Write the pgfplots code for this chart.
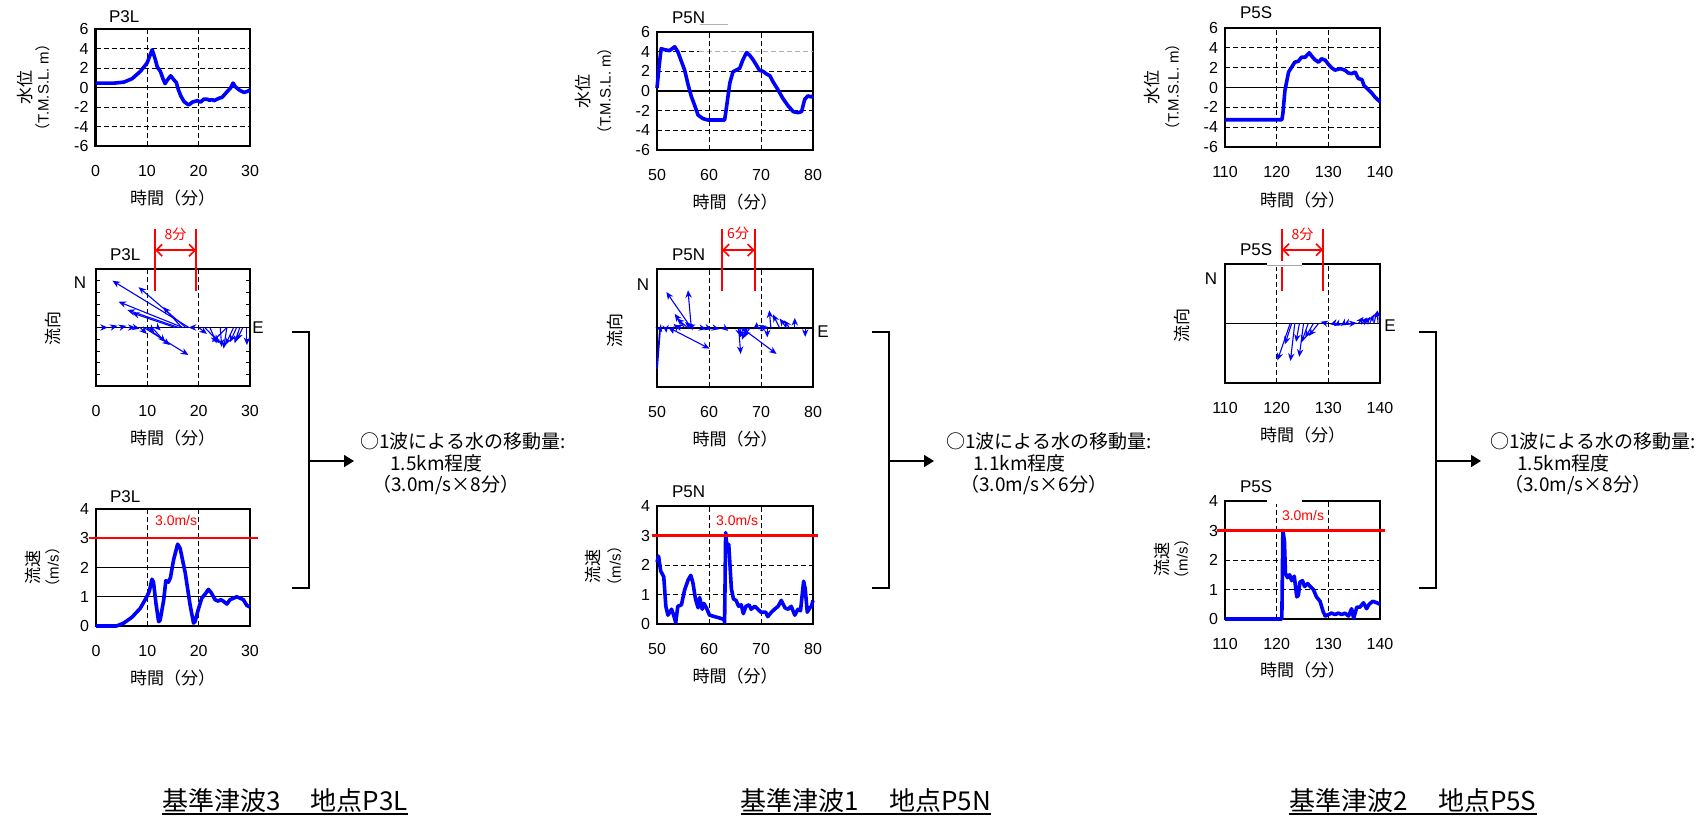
\documentclass[border=0pt]{standalone}
\usepackage{fontspec}
\setmainfont{Liberation Sans}
\newfontfamily\jp{Noto Sans CJK JP}
\usepackage{pgfplots}
\pgfplotsset{compat=1.18}
\usetikzlibrary{arrows.meta}
\definecolor{bl}{RGB}{0,0,255}
\definecolor{rd}{RGB}{255,0,0}
\newcommand\fs[1]{\fontsize{#1}{#1}\selectfont}

\tikzset{gridd/.style={dash pattern=on 2.5pt off 1.5pt, line width=0.5pt}}
\pgfplotsset{
  panel/.style={
    scale only axis, anchor=north west, clip=false,
    width=77.5pt, height=58.5pt,
    axis line style={line width=1.1pt},
    tick style={draw=none},
    ticklabel style={font=\fs{8}},
    /pgf/number format/assume math mode=true,
    xticklabel style={yshift=-6pt},
  },
  water/.style={panel, ymin=-6, ymax=6, ytick={-6,-4,-2,0,2,4,6}},
  speed/.style={panel, ymin=0, ymax=4, ytick={0,1,2,3,4}},
  dir/.style={panel, ymin=-1, ymax=1, ytick=\empty},
  curve/.style={bl, line width=1.8pt, line join=round, no marks},
  vec/.style={bl, line width=0.55pt, no marks, -{Stealth[length=3.8pt,width=3.2pt]}, quiver={u=\thisrow{u},v=\thisrow{v}}},
}

\begin{document}
\begin{tikzpicture}
\path[use as bounding box] (0pt,0pt) rectangle (852pt,-409.5pt);

% ================= Column 1 : P3L =================
\begin{axis}[water, at={(47.75pt,-14.5pt)}, width=77.25pt, xmin=0, xmax=30, xtick={0,10,20,30}]
\pgfplotsinvokeforeach{-4,-2,2,4}{\draw[gridd] (axis cs:0,#1) -- (axis cs:30,#1);}
\draw[gridd] (axis cs:10,-6) -- (axis cs:10,6);
\draw[gridd] (axis cs:20,-6) -- (axis cs:20,6);
\draw[line width=0.6pt] (axis cs:0,0) -- (axis cs:30,0);
\addplot[curve] coordinates {(0,0.45)(2,0.45)(3.6,0.45)(5.5,0.55)(7.1,0.9)(8.7,1.65)(10,2.5)(11,3.87)(11.6,2.9)(12,2.1)(12.6,1.65)(13.1,0.9)(13.5,0.4)(14,0.8)(14.6,1.2)(15.2,0.8)(15.7,0.5)(16.1,-0.25)(16.6,-0.9)(17.2,-1.45)(18.1,-1.8)(18.8,-1.5)(19.8,-1.35)(20.4,-1.5)(21,-1.2)(21.7,-1.2)(22.1,-1.3)(22.7,-1.25)(23,-1.35)(24,-1.1)(24.6,-1)(25.6,-0.4)(26.2,-0.07)(26.7,0.45)(27.2,0.05)(27.9,-0.25)(28.8,-0.5)(29.5,-0.4)(30,-0.25)};
\end{axis}

\begin{axis}[dir, at={(48pt,-134.5pt)}, width=77pt, xmin=0, xmax=30, xtick={0,10,20,30},
  ytick={-0.8,-0.6,-0.4,-0.2,0.2,0.4,0.6,0.8}, yticklabels={}, ytick style={draw=black, line width=0.4pt}, major tick length=2pt]
\draw[gridd] (axis cs:10,-1) -- (axis cs:10,1);
\draw[gridd] (axis cs:20,-1) -- (axis cs:20,1);
\draw[line width=0.6pt] (axis cs:0,0) -- (axis cs:30,0);
\addplot[vec] table[x=t, y expr=0] {
t u v
18.1 -14.9 0.80
17.5 -9.2 0.69
16.9 -12.5 0.44
16.1 -10.0 0.30
15.4 -8.4 0.25
16.7 -3.6 0.35
18.7 -0.65 0
9.3 8.7 -0.47
9.9 4.5 -0.30
10.9 2.6 -0.25
8.6 1.3 -0.11
10.5 0.8 -0.08
12 0.6 -0.05
1.2 1.1 0
2.8 1.4 0.03
4.7 1.2 0.03
6.4 1.3 0
7.5 1.0 -0.02
20 1.6 -0.11
21.2 2.9 -0.27
22.2 1.3 -0.27
24.2 0.3 -0.33
25.5 -0.65 -0.36
25.5 -2.9 -0.25
26.8 -1.6 -0.30
27.4 -1.3 -0.25
28 -1.0 -0.27
28.6 -1.2 -0.22
29.4 0 -0.30
};
\draw[rd, line width=1pt] (axis cs:11.5,0.62) -- (axis cs:11.5,1.68);
\draw[rd, line width=1pt] (axis cs:19.5,0.62) -- (axis cs:19.5,1.68);
\draw[rd, line width=0.8pt, {Straight Barb[length=3pt,width=6pt]}-{Straight Barb[length=3pt,width=6pt]}] (axis cs:11.5,1.32) -- (axis cs:19.5,1.32);
\node[rd, font=\jp\fs{7}] at (axis cs:15.5,1.6) {8分};
\end{axis}

\begin{axis}[speed, at={(48pt,-254.5pt)}, width=77pt, xmin=0, xmax=30, xtick={0,10,20,30}]
\draw[line width=0.5pt] (axis cs:0,1) -- (axis cs:30,1);
\draw[line width=0.5pt] (axis cs:0,2) -- (axis cs:30,2);
\draw[gridd] (axis cs:10,0) -- (axis cs:10,4);
\draw[gridd] (axis cs:20,0) -- (axis cs:20,4);
\addplot[curve] coordinates {(0,0)(2,0)(4,0)(5.4,0.1)(7,0.3)(8.6,0.6)(9.9,1.0)(10.4,1.2)(10.9,1.6)(11.2,1.5)(11.7,0.75)(12.2,0.15)(12.5,0.2)(13.2,0.9)(13.6,1.55)(14.1,1.5)(14.5,1.65)(15.1,2.25)(15.9,2.8)(16.4,2.65)(17.4,1.8)(18.3,0.75)(19,0.1)(19.3,0.15)(19.9,0.55)(20.6,0.95)(21.3,1.1)(21.9,1.25)(22.4,1.15)(23.2,0.9)(23.8,0.85)(24.3,0.9)(24.8,0.85)(25.5,0.75)(26.1,0.9)(26.8,0.95)(27.4,1.0)(28.1,0.95)(28.7,0.9)(29.4,0.7)(30,0.65)};
\draw[rd, line width=1.1pt] (axis cs:-1.4,3) -- (axis cs:31.6,3);
\node[rd, font=\fs{7}] at (axis cs:15.6,3.6) {3.0m/s};
\end{axis}

% ================= Column 2 : P5N =================
\begin{axis}[water, at={(328.5pt,-16pt)}, width=78pt, height=59pt, xmin=50, xmax=80, xtick={50,60,70,80}]
\pgfplotsinvokeforeach{-4,-2,2}{\draw[gridd] (axis cs:50,#1) -- (axis cs:80,#1);}
\draw[gridd] (axis cs:50,4) -- (axis cs:58,4);
\draw[gridd, gray!60, line width=0.4pt] (axis cs:58,4) -- (axis cs:80,4);
\draw[gridd] (axis cs:60,-6) -- (axis cs:60,6);
\draw[gridd] (axis cs:70,-6) -- (axis cs:70,6);
\draw[line width=0.6pt] (axis cs:50,0) -- (axis cs:80,0);
\addplot[curve] coordinates {(50,0.3)(50.4,2.5)(50.8,4.3)(51.5,4.2)(52.4,4.1)(53.4,4.5)(54,4.0)(54.7,3.0)(55.3,2.15)(56,0.6)(56.6,-0.55)(57.2,-1.4)(57.9,-2.45)(58.8,-2.8)(59.8,-2.95)(60.8,-2.95)(61.7,-2.95)(63,-2.95)(63.3,-1.9)(64,0.8)(64.6,1.95)(65.3,2.15)(65.9,2.3)(66.5,3.15)(67.2,3.9)(67.8,3.65)(68.5,3.15)(69.1,2.65)(69.7,2.1)(70.4,2.0)(71,1.75)(71.7,1.55)(72.3,0.95)(73.3,0.1)(74.2,-0.75)(75.2,-1.5)(76.2,-2.1)(77.1,-2.2)(77.8,-2.1)(78.4,-0.85)(79,-0.5)(79.7,-0.6)(80,-0.5)};
\end{axis}

\begin{axis}[dir, at={(328.5pt,-134.5pt)}, width=78pt, height=59pt, xmin=50, xmax=80, xtick={50,60,70,80}]
\draw[gridd] (axis cs:60,-1) -- (axis cs:60,1);
\draw[gridd] (axis cs:70,-1) -- (axis cs:70,1);
\draw[line width=0.6pt] (axis cs:50,0) -- (axis cs:80,0);
\addplot[bl, line width=0.9pt, no marks] coordinates {(50.6,0)(50,-0.69)};
\addplot[vec] table[x=t, y expr=0] {
t u v
56.6 -4.8 0.61
56.6 -0.64 0.64
55.3 -1.9 0.24
56 -2.2 0.16
56.8 -1.4 0.10
57.3 -1.4 0.07
54 -0.8 0.07
54.7 -1.3 0.05
52.4 7.7 -0.35
51.7 0.1 -0.08
50.5 0.5 -0.07
52.8 0.3 -0.1
58.5 1.0 -0.02
59.8 0.8 -0.02
61 1.0 -0.02
63 0.7 -0.05
66.3 6.7 -0.44
65.7 0.4 -0.44
65.6 0.45 -0.14
66.6 -0.64 -0.16
67.3 -1.0 -0.2
67.9 -1.3 -0.15
66.9 0.2 -0.12
69.1 0.1 0.1
69.7 1.3 0.04
70.4 1.0 0.02
71.2 0 -0.16
71.9 -0.3 0.30
73.6 -1.3 0.23
74.9 -1.3 0.16
75.5 -1.1 0.13
76.5 0 0.17
78.5 0 -0.15
};
\draw[rd, line width=1pt] (axis cs:62.5,0.62) -- (axis cs:62.5,1.68);
\draw[rd, line width=1pt] (axis cs:68.8,0.62) -- (axis cs:68.8,1.68);
\draw[rd, line width=0.8pt, {Straight Barb[length=3pt,width=6pt]}-{Straight Barb[length=3pt,width=6pt]}] (axis cs:62.5,1.32) -- (axis cs:68.8,1.32);
\node[rd, font=\jp\fs{7}] at (axis cs:65.6,1.6) {6分};
\end{axis}

\begin{axis}[speed, at={(328.5pt,-253pt)}, width=78pt, height=59pt, xmin=50, xmax=80, xtick={50,60,70,80}]
\pgfplotsinvokeforeach{1,2,3}{\draw[gridd] (axis cs:50,#1) -- (axis cs:80,#1);}
\draw[gridd] (axis cs:60,0) -- (axis cs:60,4);
\draw[gridd] (axis cs:70,0) -- (axis cs:70,4);
\addplot[curve] coordinates {(50,2.1)(50.3,2.3)(50.7,1.8)(51.3,1.6)(51.7,0.6)(52.1,0.3)(52.8,0.5)(53.2,0.3)(53.6,0.05)(54,0.6)(54.7,0.65)(55.3,1.15)(56,1.5)(56.5,1.65)(56.9,1.4)(57.4,0.85)(57.9,0.55)(58.2,0.9)(58.7,0.5)(59,0.7)(59.5,0.55)(60.1,0.3)(61.1,0.25)(62.1,0.2)(62.9,0.15)(63,0.05)(63.2,3.1)(63.5,2.5)(63.8,2.7)(64.3,1.2)(64.7,0.85)(65.2,0.8)(65.7,0.6)(66.2,0.65)(66.6,0.35)(67.1,0.6)(67.7,0.65)(68.1,0.5)(68.8,0.6)(69.4,0.5)(70,0.4)(70.9,0.4)(71.3,0.25)(72,0.4)(72.6,0.5)(73.3,0.6)(73.9,0.8)(74.6,0.55)(75.2,0.5)(75.8,0.6)(76.5,0.3)(77.1,0.5)(77.6,0.45)(77.9,0.95)(78.2,1.45)(78.5,1.2)(78.9,0.4)(79.4,0.55)(79.7,0.6)(80,0.8)};
\draw[rd, line width=1.1pt] (axis cs:49,3) -- (axis cs:81,3);
\node[rd, font=\fs{7}] at (axis cs:65.4,3.5) {3.0m/s};
\end{axis}

% ================= Column 3 : P5S =================
\begin{axis}[water, at={(612.5pt,-14pt)}, width=77.5pt, height=59.5pt, xmin=110, xmax=140, xtick={110,120,130,140}]
\pgfplotsinvokeforeach{-4,-2,2,4}{\draw[gridd] (axis cs:110,#1) -- (axis cs:140,#1);}
\draw[gridd] (axis cs:120,-6) -- (axis cs:120,6);
\draw[gridd] (axis cs:130,-6) -- (axis cs:130,6);
\draw[line width=0.6pt] (axis cs:110,0) -- (axis cs:140,0);
\addplot[curve] coordinates {(110,-3.25)(115,-3.25)(121,-3.25)(121.2,-2.65)(121.6,-0.3)(122.3,1.55)(122.9,2.05)(123.5,2.55)(124.2,2.65)(124.8,3.05)(125.5,3.05)(126.3,3.5)(126.8,3.15)(127.4,2.8)(128.1,2.55)(128.7,2.9)(129.4,2.75)(130,2.35)(130.6,2.0)(131.3,1.75)(132.3,1.9)(133.2,1.75)(133.9,1.45)(134.5,1.4)(135.2,1.55)(135.8,0.9)(136.5,0.8)(136.9,0.2)(137.7,-0.2)(138.4,-0.55)(139,-0.95)(140,-1.45)};
\end{axis}

\begin{axis}[dir, at={(612.5pt,-132pt)}, width=77.5pt, height=59.5pt, xmin=110, xmax=140, xtick={110,120,130,140}]
\draw[gridd] (axis cs:120,-1) -- (axis cs:120,1);
\draw[gridd] (axis cs:130,-1) -- (axis cs:130,1);
\draw[line width=0.6pt] (axis cs:110,0) -- (axis cs:140,0);
\addplot[vec] table[x=t, y expr=0] {
t u v
122.6 -2.45 -0.62
122.9 -1.3 -0.35
123.5 -0.84 -0.63
124.4 -0.65 -0.31
125.2 -0.84 -0.56
126.1 -1.3 -0.32
127.1 -1.6 -0.24
128.1 -1.9 -0.21
129.7 -1.2 0.03
131 -0.6 -0.02
132 -0.9 -0.04
133 -0.6 -0.04
133.6 -0.6 -0.03
134.5 1.0 0.01
135.8 1.0 0.11
136.5 1.0 0.10
137.1 1.0 0.11
138 0.8 0.15
138.8 0.65 0.21
139.6 -0.1 0.22
};
\draw[rd, line width=1pt] (axis cs:121,0.55) -- (axis cs:121,1.59);
\draw[rd, line width=1pt] (axis cs:129,0.55) -- (axis cs:129,1.59);
\draw[rd, line width=0.8pt, {Straight Barb[length=3pt,width=6pt]}-{Straight Barb[length=3pt,width=6pt]}] (axis cs:121,1.24) -- (axis cs:129,1.24);
\node[rd, font=\jp\fs{7}] at (axis cs:125,1.5) {8分};
\end{axis}

\begin{axis}[speed, at={(612.5pt,-250.5pt)}, width=77.5pt, height=59pt, xmin=110, xmax=140, xtick={110,120,130,140}]
\pgfplotsinvokeforeach{1,2,3}{\draw[gridd] (axis cs:110,#1) -- (axis cs:140,#1);}
\draw[gridd] (axis cs:120,0) -- (axis cs:120,4);
\draw[gridd] (axis cs:130,0) -- (axis cs:130,4);
\addplot[curve] coordinates {(110,0)(115,0)(121,0)(121.2,3.0)(121.5,2.65)(121.7,1.55)(122.1,1.4)(122.5,1.5)(122.9,1.3)(123.4,1.45)(123.9,0.75)(124.2,0.8)(124.5,1.25)(125,1.3)(125.4,1.1)(126,1.2)(126.5,1.1)(127.1,1.0)(127.7,0.75)(128.4,0.6)(129,0.25)(129.4,0.1)(130,0.15)(130.6,0.2)(131.3,0.15)(131.9,0.2)(132.6,0.15)(133.2,0.2)(133.9,0.1)(134.5,0.35)(134.9,0.02)(135.5,0.4)(136.1,0.4)(136.8,0.55)(137.4,0.35)(137.9,0.5)(138.6,0.6)(139.4,0.55)(140,0.5)};
\draw[rd, line width=1.1pt] (axis cs:108.45,3) -- (axis cs:140.97,3);
\node[rd, font=\fs{7}] at (axis cs:125.1,3.5) {3.0m/s};
\end{axis}

\begin{scope}[x=0.5pt,y=-0.5pt]
% labels column 1
\node[anchor=west, font=\fs{8.5}] at (102,17) {P3L};
\node[anchor=west, font=\fs{8.5}] at (103,255) {P3L};
\node[anchor=west, font=\fs{8.5}] at (103,497) {P3L};
\node[rotate=90, font=\jp\fs{8.5}] at (25,87.5) {水位};
\node[rotate=90, font=\fs{7.5}] at (43,87.5) {{\jp （}T.M.S.L. m{\jp ）}};
\node[rotate=90, font=\jp\fs{8.5}] at (53,328) {流向};
\node[rotate=90, font=\jp\fs{8.5}] at (33,567) {流速};
\node[rotate=90, font=\fs{7.5}] at (53,567) {{\jp （}m/s{\jp ）}};
\node[font=\fs{8.5}] at (80,283) {N};
\node[font=\fs{8.5}] at (258,328) {E};
\node[font=\jp\fs{8.5}] at (172.5,198) {時間（分）};
\node[font=\jp\fs{8.5}] at (172.5,438) {時間（分）};
\node[font=\jp\fs{8.5}] at (172.5,678) {時間（分）};
% labels column 2
\node[anchor=west, font=\fs{8.5}] at (665,18) {P5N};
\draw[gray!60, line width=0.4pt] (700,24) -- (728,24);
\node[anchor=west, font=\fs{8.5}] at (665,255) {P5N};
\node[anchor=west, font=\fs{8.5}] at (665,492) {P5N};
\node[rotate=90, font=\jp\fs{8.5}] at (583,91) {水位};
\node[rotate=90, font=\fs{7.5}] at (605,91) {{\jp （}T.M.S.L. m{\jp ）}};
\node[rotate=90, font=\jp\fs{8.5}] at (615,330) {流向};
\node[rotate=90, font=\jp\fs{8.5}] at (593,566) {流速};
\node[rotate=90, font=\fs{7.5}] at (615,566) {{\jp （}m/s{\jp ）}};
\node[font=\fs{8.5}] at (643,285) {N};
\node[font=\fs{8.5}] at (823,332) {E};
\node[font=\jp\fs{8.5}] at (735,202) {時間（分）};
\node[font=\jp\fs{8.5}] at (735,439) {時間（分）};
\node[font=\jp\fs{8.5}] at (735,676) {時間（分）};
% gaps in top frames (col 3)
\fill[white] (1267,261) rectangle (1302,267);
\draw[gray!70, line width=0.4pt] (1267,265.5) -- (1302,265.5);
\fill[white] (1267,498) rectangle (1302,504);
% labels column 3
\node[anchor=west, font=\fs{8.5}] at (1233,13) {P5S};
\node[anchor=west, font=\fs{8.5}] at (1233,250) {P5S};
\node[anchor=west, font=\fs{8.5}] at (1233,487) {P5S};
\node[rotate=90, font=\jp\fs{8.5}] at (1152,87) {水位};
\node[rotate=90, font=\fs{7.5}] at (1173,87) {{\jp （}T.M.S.L. m{\jp ）}};
\node[rotate=90, font=\jp\fs{8.5}] at (1182,325) {流向};
\node[rotate=90, font=\jp\fs{8.5}] at (1162,559) {流速};
\node[rotate=90, font=\fs{7.5}] at (1182,559) {{\jp （}m/s{\jp ）}};
\node[font=\fs{8.5}] at (1211,279) {N};
\node[font=\fs{8.5}] at (1390,326) {E};
\node[font=\jp\fs{8.5}] at (1302.5,200) {時間（分）};
\node[font=\jp\fs{8.5}] at (1302.5,435) {時間（分）};
\node[font=\jp\fs{8.5}] at (1302.5,670) {時間（分）};

% ================= brackets and notes =================
\foreach \bx/\tx/\lx/\ly/\dist/\mins in {309/360/390/372/1.5/8, 889/946/973/960/1.1/6, 1436/1490/1517/1504/1.5/8} {
  \draw[line width=0.8pt] (\bx-17,332) -- (\bx,332) -- (\bx,588) -- (\bx-17,588);
  \draw[line width=0.8pt, -{Triangle[length=5pt,width=6pt]}] (\bx,461) -- (\bx+45,461);
  \node[anchor=west, inner sep=0, font=\jp\fs{9.5}] at (\tx,441) {○1波による水の移動量:};
  \node[anchor=west, inner sep=0, font=\jp\fs{9.5}] at (\lx,463) {\dist km程度};
  \node[anchor=west, inner sep=0, font=\jp\fs{9.5}] at (\ly,485) {（3.0m/s×\mins 分）};
}

% ================= bottom titles =================
\foreach \cx/\num/\pt in {285/3/P3L, 866/1/P5N, 1413/2/P5S} {
  \node[anchor=base, inner sep=0, font=\jp\fs{13}] (bt) at (\cx,810) {基準津波\num\hspace{15pt}地点\pt};
  \draw[line width=0.8pt] ([yshift=-2pt]bt.base west) -- ([yshift=-2pt]bt.base east);
}
\end{scope}
\end{tikzpicture}
\end{document}
